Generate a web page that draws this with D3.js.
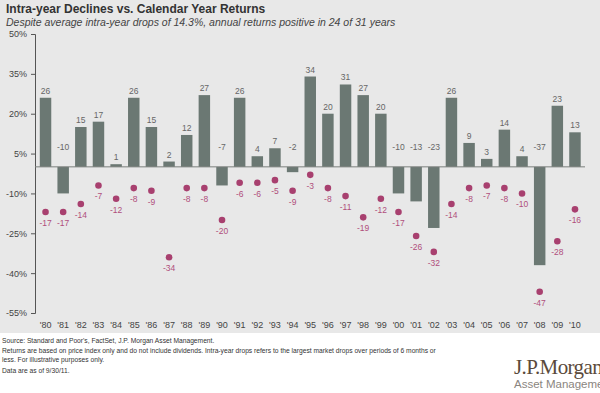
<!DOCTYPE html>
<html>
<head>
<meta charset="utf-8">
<script src="https://cdn.jsdelivr.net/npm/d3@7"></script>
<style>
  body { margin: 0; background: #fff; }
  svg { display: block; font-family: "Liberation Sans", Arial, sans-serif; }
</style>
</head>
<body>
<svg id="chart" width="600" height="393"></svg>
<script>
const years = ["'80","'81","'82","'83","'84","'85","'86","'87","'88","'89","'90","'91","'92","'93","'94","'95",
    "'96","'97","'98","'99","'00","'01","'02","'03","'04","'05","'06","'07","'08","'09","'10"];
const annualReturns = [26, -10, 15, 17, 1, 26, 15, 2, 12, 27, -7, 26, 4, 7, -2, 34,
    20, 31, 27, 20, -10, -13, -23, 26, 9, 3, 14, 4, -37, 23, 13];
const intraYearDrops = [-17, -17, -14, -7, -12, -8, -9, -34, -8, -8, -20, -6, -6, -5, -9, -3,
    -8, -11, -19, -12, -17, -26, -32, -14, -8, -7, -8, -10, -47, -28, -16];
const yTicks = [50, 35, 20, 5, -10, -25, -40, -55];

const footnotes = [
    "Source: Standard and Poor's, FactSet, J.P. Morgan Asset Management.",
    "Returns are based on price index only and do not include dividends. Intra-year drops refers to the largest market drops over periods of 6 months or",
    "less. For illustrative purposes only.",
    "Data are as of 9/30/11."
];

const svg = d3.select("#chart");

// gray panel behind title + plot
svg.append("rect").attr("x", 0).attr("y", 0).attr("width", 600).attr("height", 333).attr("fill", "#e8e8e8");

svg.append("text").attr("x", 6).attr("y", 13)
    .attr("font-size", 12).attr("font-weight", "bold").attr("fill", "#333")
    .text("Intra-year Declines vs. Calendar Year Returns");
svg.append("text").attr("x", 6).attr("y", 26)
    .attr("font-size", 10.5).attr("font-style", "italic").attr("fill", "#444")
    .text("Despite average intra-year drops of 14.3%, annual returns positive in 24 of 31 years");

const y = d3.scaleLinear().domain([-55, 50]).range([313, 34]);
const x = d3.scaleBand().domain(years).range([36.7, 583.8]).paddingInner(0.35).paddingOuter(0.175);

const yAxis = svg.append("g").attr("transform", "translate(35,0)")
    .call(d3.axisLeft(y).tickValues(yTicks).tickSize(4).tickPadding(4).tickFormat(d => d + "%"));
yAxis.select(".domain").attr("stroke", "#555");
yAxis.selectAll(".tick line").attr("stroke", "#555");
yAxis.selectAll("text").attr("font-size", 9).attr("fill", "#444").attr("font-family", "Liberation Sans, Arial, sans-serif");

const xAxis = svg.append("g").attr("transform", "translate(0,318)")
    .call(d3.axisBottom(x).tickSize(0).tickPadding(4));
xAxis.select(".domain").remove();
xAxis.selectAll("text").attr("font-size", 9).attr("fill", "#444").attr("font-family", "Liberation Sans, Arial, sans-serif");

// bars
svg.append("g").selectAll("rect")
    .data(annualReturns)
    .join("rect")
    .attr("x", (d, i) => x(years[i]))
    .attr("width", x.bandwidth())
    .attr("y", d => y(Math.max(d, 0)))
    .attr("height", d => Math.abs(y(d) - y(0)))
    .attr("fill", "#6b7873");

// zero line
svg.append("line").attr("x1", 35).attr("x2", 585).attr("y1", y(0)).attr("y2", y(0))
    .attr("stroke", "#7a7f7c").attr("stroke-width", 1);

svg.append("g").selectAll("text")
    .data(annualReturns)
    .join("text")
    .attr("x", (d, i) => x(years[i]) + x.bandwidth() / 2)
    .attr("y", d => d >= 0 ? y(d) - 4 : y(0) - 17)
    .attr("text-anchor", "middle")
    .attr("font-size", 8.5).attr("fill", "#666")
    .text(d => d);

// intra-year drops
svg.append("g").selectAll("circle")
    .data(intraYearDrops)
    .join("circle")
    .attr("cx", (d, i) => x(years[i]) + x.bandwidth() / 2)
    .attr("cy", d => y(d))
    .attr("r", 3.3)
    .attr("fill", "#a8406f");

svg.append("g").selectAll("text")
    .data(intraYearDrops)
    .join("text")
    .attr("x", (d, i) => x(years[i]) + x.bandwidth() / 2)
    .attr("y", d => y(d) + 14)
    .attr("text-anchor", "middle")
    .attr("font-size", 8.5).attr("fill", "#b04f7c")
    .text(d => d);

// footnotes
const footY = [343, 353, 362, 373];
svg.append("g").selectAll("text")
    .data(footnotes)
    .join("text")
    .attr("x", 2)
    .attr("y", (d, i) => footY[i])
    .attr("font-size", 6.7).attr("fill", "#333")
    .text(d => d);

// logo
svg.append("text").attr("x", 514).attr("y", 374)
    .attr("font-family", "Liberation Serif, Times New Roman, serif")
    .attr("font-size", 21).attr("fill", "#5b4a3b").attr("letter-spacing", -0.6)
    .text("J.P.Morgan");
svg.append("text").attr("x", 514).attr("y", 388)
    .attr("font-size", 11.5).attr("fill", "#8a8580")
    .text("Asset Management");
</script>
</body>
</html>
